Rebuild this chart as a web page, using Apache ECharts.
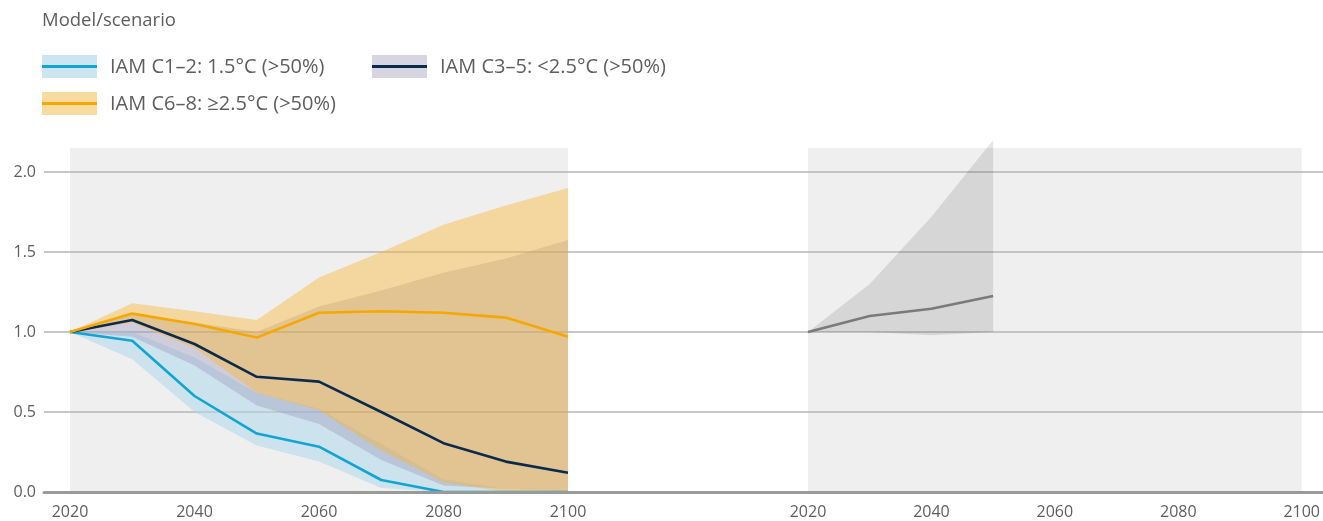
<!DOCTYPE html>
<html>
<head>
<meta charset="utf-8">
<script src="https://cdn.jsdelivr.net/npm/echarts@6/dist/echarts.min.js"></script>
<style>
  html, body { margin: 0; padding: 0; background: #fff; }
  #chart { width: 1323px; height: 521px; }
</style>
</head>
<body>
<div id="chart"></div>
<script>
// years on both panels
const years = ['2020', '2030', '2040', '2050', '2060', '2070', '2080', '2090', '2100'];

// IAM C1-2
const c12Mid = [1.0, 0.945, 0.60, 0.365, 0.283, 0.075, 0.0, 0.0, 0.0];
const c12Low = [1.0, 0.83, 0.50, 0.29, 0.19, 0.025, 0.0, 0.0, 0.0];
const c12High = [1.0, 1.0, 0.84, 0.62, 0.52, 0.30, 0.08, 0.02, 0.0];

// IAM C3-5
const c35Mid = [1.0, 1.075, 0.925, 0.72, 0.69, 0.50, 0.305, 0.19, 0.12];
const c35Low = [1.0, 0.97, 0.79, 0.54, 0.425, 0.20, 0.04, 0.02, 0.0];
const c35High = [1.0, 1.11, 1.06, 1.0, 1.16, 1.26, 1.37, 1.46, 1.575];

// IAM C6-8
const c68Mid = [1.0, 1.115, 1.05, 0.965, 1.12, 1.13, 1.12, 1.09, 0.97];
const c68Low = [1.0, 1.06, 0.90, 0.62, 0.51, 0.26, 0.06, 0.0, 0.0];
const c68High = [1.0, 1.18, 1.13, 1.075, 1.34, 1.50, 1.67, 1.79, 1.90];

// right panel
const rightMid = [1.0, 1.10, 1.145, 1.225];
const rightLow = [1.0, 1.0, 0.98, 1.0];
const rightHigh = [1.0, 1.30, 1.72, 2.2];

const yTicks = [0, 0.5, 1.0, 1.5, 2.0];
const legendNames = ['IAM C1–2: 1.5°C (>50%)', 'IAM C3–5: <2.5°C (>50%)', 'IAM C6–8: ≥2.5°C (>50%)'];

const FONT = '"Open Sans", "Noto Sans", sans-serif';
const TXT = '#5e5e5e';

const palette = {
  c12: { line: '#10a5d2', band: 'rgba(174,216,236,0.55)', swatch: '#cde5f0' },
  c35: { line: '#0b2b4c', band: 'rgba(155,150,185,0.38)', swatch: '#d6d5e1' },
  c68: { line: '#f6a800', band: 'rgba(251,183,51,0.43)', swatch: '#f9dba0' },
  right: { line: '#7a7a7a', band: 'rgba(0,0,0,0.1)' }
};

const chart = echarts.init(document.getElementById('chart'));

function band(name, low, high, color, gi) {
  return [
    {
      name: name + '-low', type: 'line', xAxisIndex: gi, yAxisIndex: gi,
      stack: name, data: low, symbol: 'none', silent: true,
      lineStyle: { opacity: 0 }, z: 3
    },
    {
      name: name + '-band', type: 'line', xAxisIndex: gi, yAxisIndex: gi,
      stack: name, data: high.map((h, i) => +(h - low[i]).toFixed(4)),
      symbol: 'none', silent: true,
      lineStyle: { opacity: 0 }, areaStyle: { color: color, opacity: 1 }, z: 3
    }
  ];
}

function line(name, data, color, gi) {
  return {
    name: name, type: 'line', xAxisIndex: gi, yAxisIndex: gi,
    data: data, symbol: 'none', silent: true,
    lineStyle: { color: color, width: 2.6 }, z: 4
  };
}

function bg(gi) {
  return {
    type: 'line', xAxisIndex: gi, yAxisIndex: gi, data: [], z: 1, silent: true,
    markArea: {
      silent: true,
      itemStyle: { color: '#efefef' },
      data: [[{ xAxis: years[0], yAxis: 0 }, { xAxis: years[years.length - 1], yAxis: 2.15 }]]
    }
  };
}

const xCat = gi => ({
  type: 'category', gridIndex: gi, data: years, boundaryGap: false,
  axisLine: { show: false }, axisTick: { show: false }, splitLine: { show: false },
  axisLabel: { interval: 1, color: TXT, fontFamily: FONT, fontSize: 16, margin: 12 }
});
const yHidden = gi => ({
  type: 'value', gridIndex: gi, min: 0, max: 2.2, show: false
});

// legend drawn as graphics: light band swatch with line through it
const legendItems = [
  { key: 'c12', x: 42, y: 55 },
  { key: 'c35', x: 372, y: 55 },
  { key: 'c68', x: 42, y: 92 }
];
const graphic = [
  { type: 'text', x: 42, y: 21, style: { text: 'Model/scenario', fill: TXT, font: '18.5px ' + FONT, textVerticalAlign: 'middle' } }
];
legendItems.forEach((it, i) => {
  const p = palette[it.key];
  graphic.push({ type: 'rect', shape: { x: it.x, y: it.y, width: 55, height: 23 }, style: { fill: p.swatch } });
  graphic.push({ type: 'rect', shape: { x: it.x, y: it.y + 10, width: 55, height: 3 }, style: { fill: p.line } });
  graphic.push({
    type: 'text', x: it.x + 68, y: it.y + 12,
    style: { text: legendNames[i], fill: TXT, font: '20px ' + FONT, textVerticalAlign: 'middle' }
  });
});

chart.setOption({
  animation: false,
  backgroundColor: '#fff',
  graphic: graphic,
  grid: [
    { left: 44, right: 0, top: 172, bottom: 29 },
    { left: 70, width: 498, top: 140, bottom: 29 },
    { left: 808, width: 500, top: 140, bottom: 29 }
  ],
  xAxis: [
    {
      type: 'value', gridIndex: 0, min: 0, max: 1, z: 5,
      axisLine: { show: true, lineStyle: { color: '#9a9a9a', width: 3 } },
      axisTick: { show: false }, axisLabel: { show: false }, splitLine: { show: false }
    },
    xCat(1),
    xCat(2)
  ],
  yAxis: [
    {
      type: 'value', gridIndex: 0, min: yTicks[0], max: yTicks[yTicks.length - 1], interval: 0.5, z: 2,
      axisLine: { show: false }, axisTick: { show: false },
      axisLabel: { color: TXT, fontFamily: FONT, fontSize: 16, margin: 8, formatter: v => v.toFixed(1) },
      splitLine: { show: true, lineStyle: { color: '#b4b4b4', width: 1.5 } }
    },
    yHidden(1),
    yHidden(2)
  ],
  series: [
    bg(1),
    bg(2),
    ...band('c12', c12Low, c12High, palette.c12.band, 1),
    ...band('c35', c35Low, c35High, palette.c35.band, 1),
    ...band('c68', c68Low, c68High, palette.c68.band, 1),
    line('IAM C1-2', c12Mid, palette.c12.line, 1),
    line('IAM C3-5', c35Mid, palette.c35.line, 1),
    line('IAM C6-8', c68Mid, palette.c68.line, 1),
    ...band('right', rightLow, rightHigh, palette.right.band, 2),
    line('right', rightMid, palette.right.line, 2)
  ]
});
</script>
</body>
</html>
